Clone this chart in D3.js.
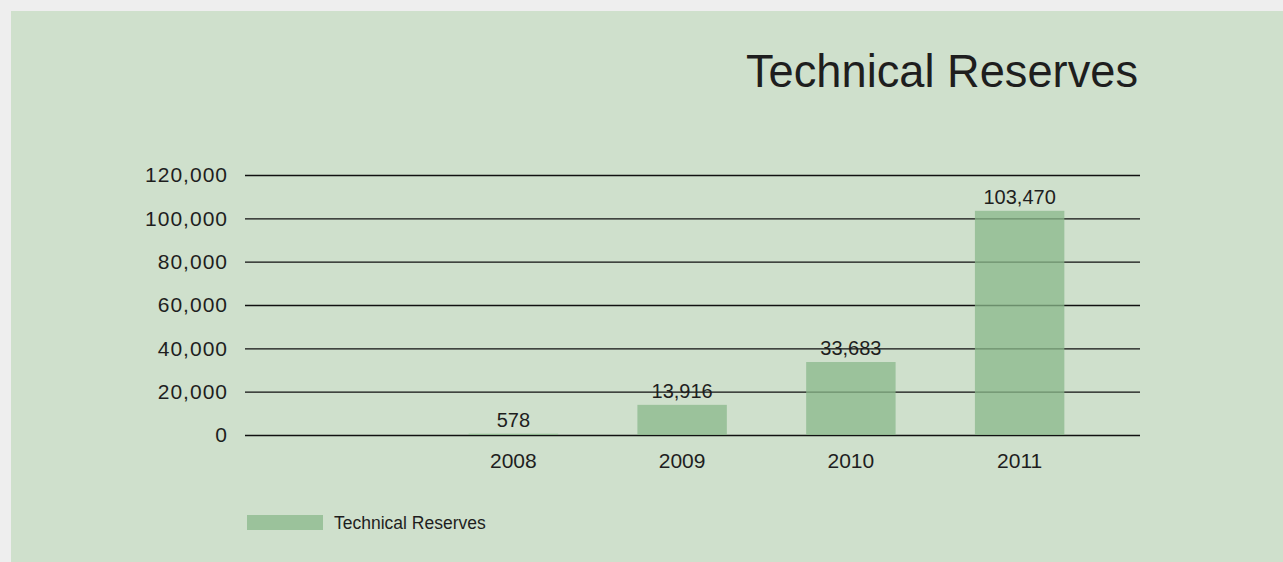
<!DOCTYPE html>
<html>
<head>
<meta charset="utf-8">
<script src="https://cdn.jsdelivr.net/npm/d3@7"></script>
<style>
  html, body { margin: 0; padding: 0; background: #eeeeee; }
  svg { display: block; }
  text { font-family: "Liberation Sans", "Helvetica Neue", Helvetica, Arial, sans-serif; fill: #1e1e1e; }
</style>
</head>
<body>
<svg id="chart" width="1283" height="562"></svg>
<script>
// Technical reserves by year
const years = ["2008", "2009", "2010", "2011"];
const reserves = [578, 13916, 33683, 103470];
const yTicks = [0, 20000, 40000, 60000, 80000, 100000, 120000];
const seriesName = "Technical Reserves";
const chartTitle = "Technical Reserves";

const svg = d3.select("#chart");
const W = 1283, H = 562;

// green panel
svg.append("rect")
  .attr("x", 11).attr("y", 11)
  .attr("width", W - 11).attr("height", H - 11)
  .attr("fill", "#cfe0cc");

// title
const title = svg.append("text")
  .attr("x", 1138).attr("y", 87)
  .attr("text-anchor", "end")
  .style("font-size", "46px")
  .attr("fill", "#111")
  .text(chartTitle);
title.attr("textLength", 392).attr("lengthAdjust", "spacingAndGlyphs");

const plotLeft = 245, plotRight = 1140;
const y = d3.scaleLinear().domain([0, 120000]).range([435, 175]);
const x = d3.scaleBand().domain(years).range([429, 1104])
  .paddingInner(0.47).paddingOuter(0.235);

// value axis with full-width gridlines
const yAxis = d3.axisLeft(y)
  .tickValues(yTicks)
  .tickFormat(d3.format(","))
  .tickSize(-(plotRight - plotLeft))
  .tickPadding(17);

const gy = svg.append("g")
  .attr("transform", `translate(${plotLeft},0)`)
  .call(yAxis);
gy.select(".domain").remove();
gy.selectAll(".tick line").attr("stroke", "#111").attr("stroke-width", 1.3);
gy.selectAll(".tick text")
  .style("font-size", "21px")
  .style("letter-spacing", "1px")
  .attr("fill", "#1e1e1e");

// bars
svg.append("g").selectAll("rect")
  .data(reserves)
  .join("rect")
  .attr("x", (d, i) => x(years[i]))
  .attr("width", x.bandwidth())
  .attr("y", d => y(d))
  .attr("height", d => y(0) - y(d))
  .attr("fill", "#8ab88b")
  .attr("fill-opacity", 0.75);

// value labels
svg.append("g").selectAll("text")
  .data(reserves)
  .join("text")
  .attr("x", (d, i) => x(years[i]) + x.bandwidth() / 2)
  .attr("y", d => y(d) - 7)
  .attr("text-anchor", "middle")
  .style("font-size", "20px")
  .text(d => d3.format(",")(d));

// category axis labels
const xAxis = d3.axisBottom(x).tickSize(0).tickPadding(18);
const gx = svg.append("g")
  .attr("transform", `translate(0,${y(0)})`)
  .call(xAxis);
gx.select(".domain").remove();
gx.selectAll(".tick text")
  .style("font-size", "21px")
  .attr("fill", "#1e1e1e");

// legend
svg.append("rect")
  .attr("x", 247).attr("y", 515)
  .attr("width", 76).attr("height", 15)
  .attr("fill", "#8ab88b").attr("fill-opacity", 0.75);
svg.append("text")
  .attr("x", 334).attr("y", 529)
  .style("font-size", "17.5px")
  .text(seriesName);
</script>
</body>
</html>
